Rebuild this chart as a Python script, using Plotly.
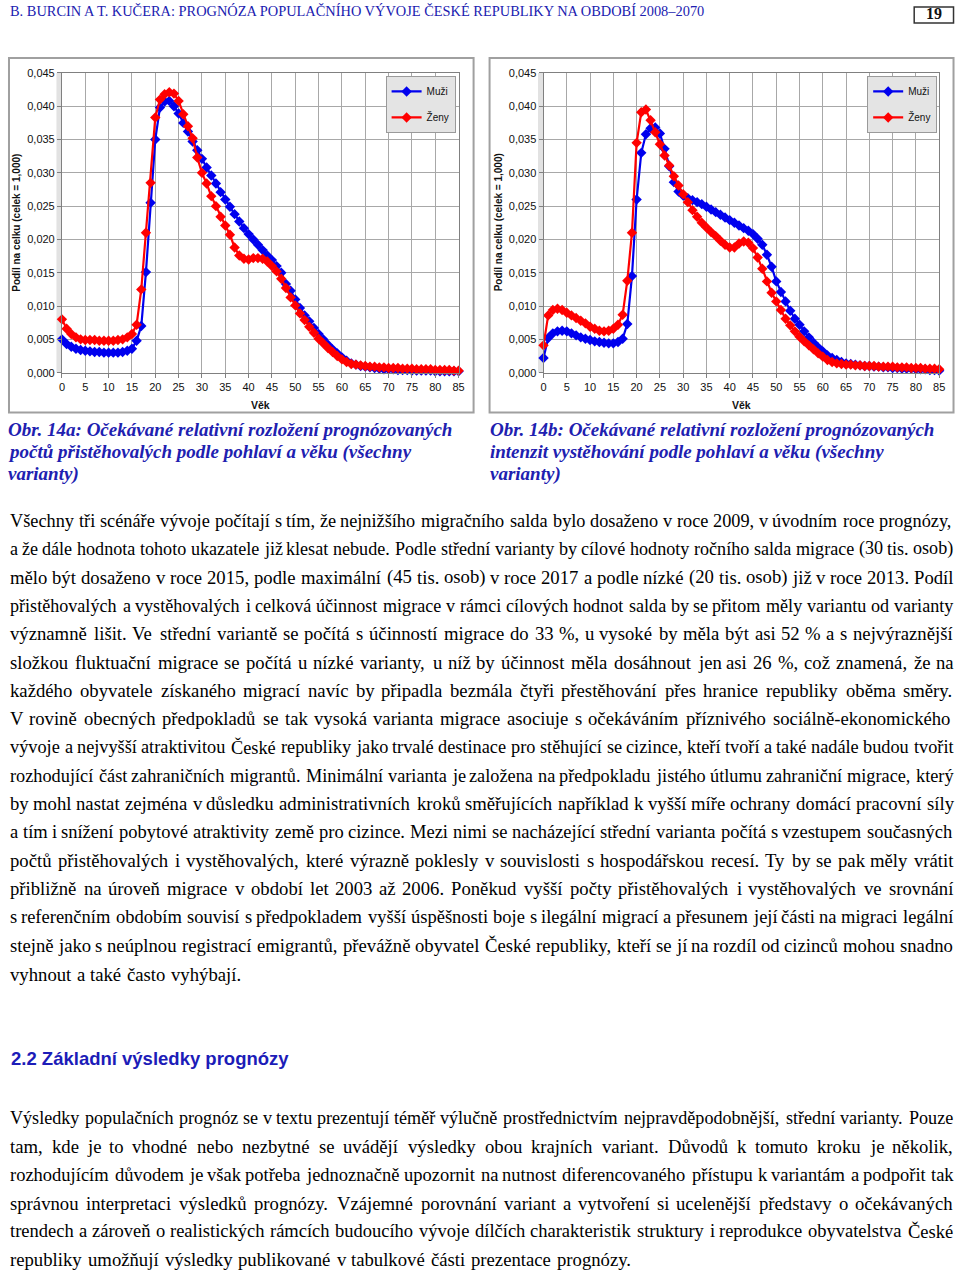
import unicodedata
import plotly.graph_objects as go

# ---------------- data ----------------
ages = list(range(86))
tick_ages = list(range(0, 86, 5))

left_muzi = [
    0.0050, 0.0043, 0.0039, 0.0036, 0.0034, 0.0033, 0.0032, 0.0031, 0.0031, 0.0030,
    0.0030, 0.0030, 0.0030, 0.0031, 0.0033, 0.0036, 0.0048, 0.0070, 0.0151, 0.0255,
    0.0350, 0.0398, 0.0407, 0.0408, 0.0400, 0.0389, 0.0375, 0.0362, 0.0347, 0.0334,
    0.0321, 0.0308, 0.0296, 0.0284, 0.0271, 0.0260, 0.0249, 0.0238, 0.0227, 0.0217,
    0.0208, 0.0200, 0.0192, 0.0184, 0.0176, 0.0169, 0.0160, 0.0150, 0.0133, 0.0123,
    0.0110, 0.0097, 0.0086, 0.0077, 0.0067, 0.0058, 0.0050, 0.0042, 0.0035, 0.0029,
    0.0023, 0.0018, 0.0014, 0.0012, 0.0010, 0.0009, 0.0008, 0.0007, 0.0006, 0.0005,
    0.0005, 0.0005, 0.0004, 0.0004, 0.0004, 0.0003, 0.0003, 0.0003, 0.0003, 0.0003,
    0.0002, 0.0002, 0.0002, 0.0002, 0.0002, 0.0002,
]
left_zeny = [
    0.0080, 0.0066, 0.0058, 0.0053, 0.0050, 0.0049, 0.0049, 0.0049, 0.0048, 0.0048,
    0.0048, 0.0048, 0.0049, 0.0050, 0.0053, 0.0058, 0.0072, 0.0125, 0.0210, 0.0285,
    0.0383, 0.0410, 0.0418, 0.0421, 0.0419, 0.0408, 0.0388, 0.0370, 0.0352, 0.0323,
    0.0300, 0.0284, 0.0265, 0.0250, 0.0234, 0.0221, 0.0207, 0.0188, 0.0176, 0.0171,
    0.0170, 0.0172, 0.0172, 0.0171, 0.0167, 0.0160, 0.0152, 0.0141, 0.0127, 0.0113,
    0.0101, 0.0089, 0.0079, 0.0069, 0.0060, 0.0051, 0.0044, 0.0037, 0.0031, 0.0025,
    0.0020, 0.0016, 0.0013, 0.0012, 0.0011, 0.0010, 0.0009, 0.0009, 0.0008, 0.0008,
    0.0007, 0.0007, 0.0007, 0.0006, 0.0006, 0.0006, 0.0005, 0.0005, 0.0005, 0.0005,
    0.0004, 0.0004, 0.0004, 0.0004, 0.0003, 0.0003,
]
right_muzi = [
    0.0022, 0.0052, 0.0059, 0.0062, 0.0063, 0.0062, 0.0059, 0.0056, 0.0053, 0.0051,
    0.0049, 0.0047, 0.0046, 0.0045, 0.0044, 0.0044, 0.0046, 0.0051, 0.0073, 0.0145,
    0.0260, 0.0330, 0.0358, 0.0367, 0.0368, 0.0359, 0.0336, 0.0310, 0.0286, 0.0272,
    0.0266, 0.0262, 0.0259, 0.0256, 0.0253, 0.0249, 0.0245, 0.0241, 0.0237, 0.0233,
    0.0229, 0.0225, 0.0221, 0.0217, 0.0213, 0.0208, 0.0201, 0.0192, 0.0177, 0.0159,
    0.0137, 0.0121, 0.0107, 0.0093, 0.0081, 0.0072, 0.0062, 0.0053, 0.0045, 0.0038,
    0.0032, 0.0026, 0.0022, 0.0019, 0.0016, 0.0014, 0.0013, 0.0012, 0.0011, 0.0010,
    0.0010, 0.0009, 0.0009, 0.0008, 0.0008, 0.0007, 0.0007, 0.0006, 0.0006, 0.0006,
    0.0005, 0.0005, 0.0005, 0.0004, 0.0004, 0.0003,
]
right_zeny = [
    0.0041, 0.0086, 0.0094, 0.0096, 0.0094, 0.0090, 0.0086, 0.0082, 0.0078, 0.0074,
    0.0069, 0.0066, 0.0063, 0.0062, 0.0063, 0.0066, 0.0072, 0.0087, 0.0138, 0.0210,
    0.0345, 0.0391, 0.0395, 0.0379, 0.0361, 0.0343, 0.0326, 0.0311, 0.0295, 0.0281,
    0.0268, 0.0256, 0.0244, 0.0234, 0.0225, 0.0218, 0.0211, 0.0205, 0.0198, 0.0192,
    0.0188, 0.0188, 0.0194, 0.0197, 0.0195, 0.0187, 0.0173, 0.0156, 0.0137, 0.0120,
    0.0107, 0.0094, 0.0081, 0.0071, 0.0062, 0.0054, 0.0047, 0.0041, 0.0035, 0.0029,
    0.0024, 0.0019, 0.0016, 0.0014, 0.0013, 0.0012, 0.0012, 0.0011, 0.0011, 0.0010,
    0.0010, 0.0010, 0.0009, 0.0009, 0.0009, 0.0009, 0.0008, 0.0008, 0.0008, 0.0007,
    0.0007, 0.0007, 0.0006, 0.0006, 0.0006, 0.0005,
]

series_names = ["Muži", "Ženy"]
header_text = "B. BURCIN A T. KUČERA: PROGNÓZA POPULAČNÍHO VÝVOJE ČESKÉ REPUBLIKY NA OBDOBÍ 2008–2070"
page_number = "19"
y_title = "Podíl na celku (celek = 1,000)"
x_title = "Věk"
caption_left = ["Obr. 14a: Očekávané relativní rozložení prognózovaných",
                "počtů přistěhovalých podle pohlaví a věku (všechny",
                "varianty)"]
caption_right = ["Obr. 14b: Očekávané relativní rozložení prognózovaných",
                 "intenzit vystěhování podle pohlaví a věku (všechny",
                 "varianty)"]
heading = "2.2 Základní výsledky prognózy"
para1 = [
    "Všechny tři scénáře vývoje počítají s tím, že nejnižšího migračního salda bylo dosaženo v roce 2009, v úvodním roce prognózy,",
    "a že dále hodnota tohoto ukazatele již klesat nebude. Podle střední varianty by cílové hodnoty ročního salda migrace (30 tis. osob)",
    "mělo být dosaženo v roce 2015, podle maximální (45 tis. osob) v roce 2017 a podle nízké (20 tis. osob) již v roce 2013. Podíl",
    "přistěhovalých a vystěhovalých i celková účinnost migrace v rámci cílových hodnot salda by se přitom měly variantu od varianty",
    "významně lišit. Ve střední variantě se počítá s účinností migrace do 33 %, u vysoké by měla být asi 52 % a s nejvýraznější",
    "složkou fluktuační migrace se počítá u nízké varianty, u níž by účinnost měla dosáhnout jen asi 26 %, což znamená, že na",
    "každého obyvatele získaného migrací navíc by připadla bezmála čtyři přestěhování přes hranice republiky oběma směry.",
    "V rovině obecných předpokladů se tak vysoká varianta migrace asociuje s očekáváním příznivého sociálně-ekonomického",
    "vývoje a nejvyšší atraktivitou České republiky jako trvalé destinace pro stěhující se cizince, kteří tvoří a také nadále budou tvořit",
    "rozhodující část zahraničních migrantů. Minimální varianta je založena na předpokladu jistého útlumu zahraniční migrace, který",
    "by mohl nastat zejména v důsledku administrativních kroků směřujících například k vyšší míře ochrany domácí pracovní síly",
    "a tím i snížení pobytové atraktivity země pro cizince. Mezi nimi se nacházející střední varianta počítá s vzestupem současných",
    "počtů přistěhovalých i vystěhovalých, které výrazně poklesly v souvislosti s hospodářskou recesí. Ty by se pak měly vrátit",
    "přibližně na úroveň migrace v období let 2003 až 2006. Poněkud vyšší počty přistěhovalých i vystěhovalých ve srovnání",
    "s referenčním obdobím souvisí s předpokladem vyšší úspěšnosti boje s ilegální migrací a přesunem její části na migraci legální",
    "stejně jako s neúplnou registrací emigrantů, převážně obyvatel České republiky, kteří se jí na rozdíl od cizinců mohou snadno",
    "vyhnout a také často vyhýbají.",
]
para2 = [
    "Výsledky populačních prognóz se v textu prezentují téměř výlučně prostřednictvím nejpravděpodobnější, střední varianty. Pouze",
    "tam, kde je to vhodné nebo nezbytné se uvádějí výsledky obou krajních variant. Důvodů k tomuto kroku je několik,",
    "rozhodujícím důvodem je však potřeba jednoznačně upozornit na nutnost diferencovaného přístupu k variantám a podpořit tak",
    "správnou interpretaci výsledků prognózy. Vzájemné porovnání variant a vytvoření si ucelenější představy o očekávaných",
    "trendech a zároveň o realistických rámcích budoucího vývoje dílčích charakteristik struktury i reprodukce obyvatelstva České",
    "republiky umožňují výsledky publikované v tabulkové části prezentace prognózy.",
]

# ---------------- helpers ----------------
W, H = 960, 1271
# small correction for how the page ends up in the photograph
OX, OY, SC = 2.0, 6.0, 0.9915


def px(x):
    return min(max(((x - OX) / SC) / W, 0.0), 0.9995)


def py(y):
    return 1 - min(max(((y - OY) / SC) / H, 0.0), 1.0)


BLUE = "#0000ee"
RED = "#ff0000"
GRID = "#a8a8a8"
AXIS = "#808080"
TITLE_BLUE = "#2020b0"
SANS = "Liberation Sans, Arial, sans-serif"
SERIF = "Liberation Serif, Times New Roman, serif"

# Times-compatible advance widths (1/1000 em)
_TW = {" ": 250, ",": 250, ".": 250, ":": 278, ";": 278, "(": 333, ")": 333, "-": 333,
       "%": 833, "–": 500}
for c, w in zip("abcdefghijklmnopqrstuvwxyz",
                [444, 500, 444, 500, 444, 333, 500, 500, 278, 278, 500, 278, 778, 500, 500, 500,
                 500, 333, 389, 278, 500, 500, 722, 500, 500, 444]):
    _TW[c] = w
for c, w in zip("ABCDEFGHIJKLMNOPQRSTUVWXYZ",
                [722, 667, 667, 722, 611, 556, 722, 722, 333, 389, 722, 611, 889, 722, 722, 556,
                 722, 667, 556, 611, 722, 722, 944, 722, 722, 611]):
    _TW[c] = w
for c in "0123456789":
    _TW[c] = 500


def text_width(s, size):
    tot = 0
    for ch in s:
        base = unicodedata.normalize("NFD", ch)[0]
        tot += _TW.get(base, 500)
    return tot * size / 1000.0 * 1.02


fig = go.Figure()

# ---------------- traces ----------------
panels = [
    ("x", "y", left_muzi, left_zeny, "legend", "a"),
    ("x2", "y2", right_muzi, right_zeny, "legend2", "b"),
]
for xa, ya, muzi, zeny, lg, tag in panels:
    for name, vals, col in [(series_names[0], muzi, BLUE), (series_names[1], zeny, RED)]:
        fig.add_trace(go.Scatter(
            x=ages, y=vals, name=name, mode="lines+markers",
            xaxis=xa, yaxis=ya, legend=lg, legendgroup=name + tag,
            line=dict(color=col, width=2.2),
            marker=dict(symbol="diamond", size=8, color=col),
            hoverinfo="skip", cliponaxis=False,
        ))

# ---------------- axes ----------------
plot_top, plot_bot = 73, 373
axis_common = dict(showgrid=True, gridcolor=GRID, gridwidth=1, showline=True, linecolor=AXIS,
                   linewidth=1, mirror=True, ticks="outside", ticklen=4, tickcolor=AXIS,
                   tickfont=dict(family=SANS, size=11, color="#111111"), zeroline=False)
fig.update_layout(
    xaxis=dict(domain=[px(61), px(458)], range=[0, 85], tickvals=tick_ages, anchor="y", **axis_common),
    yaxis=dict(domain=[py(plot_bot), py(plot_top)], range=[0, 0.045], dtick=0.005, tick0=0,
               tickformat=".3f", anchor="x", **axis_common),
    xaxis2=dict(domain=[px(543), px(939)], range=[0, 85], tickvals=tick_ages, anchor="y2", **axis_common),
    yaxis2=dict(domain=[py(plot_bot), py(plot_top)], range=[0, 0.045], dtick=0.005, tick0=0,
                tickformat=".3f", anchor="x2", **axis_common),
)

legend_common = dict(bgcolor="#e4e4e4", bordercolor="#9a9a9a", borderwidth=1,
                     font=dict(family=SANS, size=10, color="#111111"),
                     xanchor="right", yanchor="top", tracegroupgap=7, itemwidth=30,
                     traceorder="grouped")
fig.update_layout(
    legend=dict(x=px(455), y=py(76), **legend_common),
    legend2=dict(x=px(937), y=py(76), **legend_common),
)

shapes = []
annotations = []

# chart area frames and the light band left of each plot area
for x0, x1, b0 in [(8, 473, 55.5), (489, 955, 537.5)]:
    shapes.append(dict(type="rect", xref="paper", yref="paper", x0=px(x0), x1=px(x1),
                       y0=py(413), y1=py(58), line=dict(color="#a0a0a0", width=2), layer="below"))
    shapes.append(dict(type="rect", xref="paper", yref="paper", x0=px(b0), x1=px(b0 + 5),
                       y0=py(373), y1=py(73), fillcolor="#e2e2e2", line=dict(width=0), layer="below"))

# axis titles
for xc, yt in [(260, 16), (741, 498)]:
    annotations.append(dict(x=px(xc), y=py(405), xref="paper", yref="paper", text="<b>" + x_title + "</b>",
                            showarrow=False, font=dict(family=SANS, size=10.5, color="#111111"),
                            xanchor="center", yanchor="middle"))
    annotations.append(dict(x=px(yt), y=py(223), xref="paper", yref="paper", text="<b>" + y_title + "</b>",
                            showarrow=False, textangle=-90, font=dict(family=SANS, size=10, color="#111111"),
                            xanchor="center", yanchor="middle"))

# header
annotations.append(dict(x=px(7), y=py(11), xref="paper", yref="paper", text=header_text, showarrow=False,
                        font=dict(family=SERIF, size=14.4, color=TITLE_BLUE), xanchor="left", yanchor="middle"))
shapes.append(dict(type="rect", xref="paper", yref="paper", x0=px(914), x1=px(954), y0=py(23), y1=py(7),
                   line=dict(color="#333333", width=1.5)))
annotations.append(dict(x=px(934), y=py(14), xref="paper", yref="paper", text="<b>" + page_number + "</b>",
                        showarrow=False, font=dict(family=SERIF, size=16, color="#111111"),
                        xanchor="center", yanchor="middle"))

# captions
for lines, x0 in [(caption_left, 5), (caption_right, 487)]:
    for i, line in enumerate(lines):
        annotations.append(dict(x=px(x0), y=py(430 + 22 * i), xref="paper", yref="paper",
                                text="<b><i>" + line + "</i></b>", showarrow=False,
                                font=dict(family=SERIF, size=19, color=TITLE_BLUE),
                                xanchor="left", yanchor="middle"))

# heading
annotations.append(dict(x=px(8), y=py(1060), xref="paper", yref="paper", text="<b>" + heading + "</b>",
                        showarrow=False, font=dict(family=SANS, size=18.5, color="#1c1cb8"),
                        xanchor="left", yanchor="middle"))

# justified body text
BODY_SIZE = 18.7
L, R = 8, 953


def add_paragraph(lines, y0, step):
    for i, line in enumerate(lines):
        y = y0 + step * i
        words = line.split(" ")
        last = (i == len(lines) - 1)
        size = BODY_SIZE
        while True:
            widths = [text_width(w, size) for w in words]
            if last or len(words) == 1:
                gap = text_width(" ", size)
                break
            gap = (R - L - sum(widths)) / (len(words) - 1)
            if gap >= 0.2 * size or size < 14:
                break
            size -= 0.2
        x = L
        for w, ww in zip(words, widths):
            annotations.append(dict(x=px(x), y=py(y), xref="paper", yref="paper", text=w,
                                    showarrow=False, font=dict(family=SERIF, size=size, color="#000000"),
                                    xanchor="left", yanchor="middle", borderpad=0))
            x += ww + gap


add_paragraph(para1, 521, 28.37)
add_paragraph(para2, 1119, 28.4)

fig.update_layout(
    width=W, height=H, margin=dict(l=0, r=0, t=0, b=0),
    paper_bgcolor="white", plot_bgcolor="white",
    separators=", ", showlegend=True,
    shapes=shapes, annotations=annotations,
    font=dict(family=SANS),
)

page_fix = (
    "document.documentElement.style.margin='0';"
    "document.documentElement.style.padding='0';"
    "document.documentElement.style.overflow='hidden';"
    "document.body.style.margin='0';"
    "document.body.style.padding='0';"
    "document.body.style.height='1271px';"
    "document.body.style.overflow='hidden';"
    "var d=document.getElementById('{plot_id}');"
    "d.style.position='absolute';d.style.top='0px';d.style.left='0px';"
)
fig.write_html("out.html", config={"displayModeBar": False}, post_script=page_fix)
